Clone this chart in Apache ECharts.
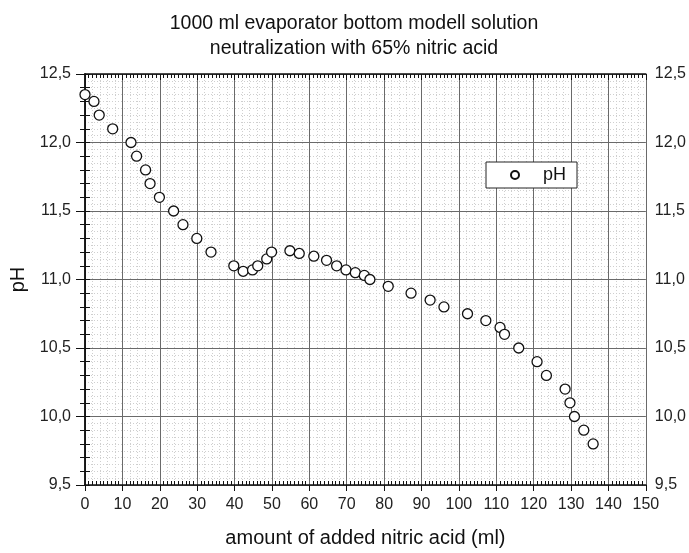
<!DOCTYPE html>
<html>
<head>
<meta charset="utf-8">
<script src="https://cdn.jsdelivr.net/npm/echarts@6/dist/echarts.min.js"></script>
<style>
  html, body { margin: 0; padding: 0; background: #fff; }
  #chart { width: 689px; height: 553px; }
</style>
</head>
<body>
<div id="chart"></div>
<script>
// amount of added nitric acid (ml)
const acidMl = [0, 2.4, 3.8, 7.4, 12.3, 13.8, 16.2, 17.4, 19.9, 23.7, 26.2, 29.9, 33.7,
  39.8, 42.3, 44.8, 46.2, 48.6, 49.9, 54.8, 57.3, 61.2, 64.6, 67.3, 69.8, 72.3, 74.7, 76.2,
  81.1, 87.2, 92.3, 96.0, 102.3, 107.2, 111.0, 112.2, 116.0, 120.9, 123.4, 128.4, 129.7,
  130.9, 133.4, 135.9];
// measured pH
const phValues = [12.35, 12.3, 12.2, 12.1, 12.0, 11.9, 11.8, 11.7, 11.6, 11.5, 11.4, 11.3, 11.2,
  11.1, 11.06, 11.07, 11.1, 11.15, 11.2, 11.21, 11.19, 11.17, 11.14, 11.1, 11.07, 11.05, 11.03, 11.0,
  10.95, 10.9, 10.85, 10.8, 10.75, 10.7, 10.65, 10.6, 10.5, 10.4, 10.3, 10.2, 10.1,
  10.0, 9.9, 9.8];

const titleLines = ['1000 ml evaporator bottom modell solution', 'neutralization with 65% nitric acid'];
const xName = 'amount of added nitric acid (ml)';
const yName = 'pH';

const points = acidMl.map((x, i) => [x, phValues[i]]);
const font = 'Liberation Sans, Arial, sans-serif';
const commaFmt = v => v.toFixed(1).replace('.', ',');

const chart = echarts.init(document.getElementById('chart'));

const xBase = { type: 'value', min: 0, max: 150, interval: 10 };
const yBase = { type: 'value', min: 9.5, max: 12.5, interval: 0.5 };
const blackLine = { show: true, lineStyle: { color: '#111', width: 1.5 } };
const tickStyle = { color: '#111', width: 1 };
const labelText = { fontFamily: font, fontSize: 16, color: '#222' };
// dotted fine grid lives on its own hidden axes, drawn beneath the major grid
const dotGrid = { show: true, lineStyle: { color: '#cfcfcf', width: 1, type: [1, 2] } };

chart.setOption({
  animation: false,
  title: {
    text: titleLines.join('\n'),
    left: 349,
    top: 6,
    textAlign: 'center',
    textStyle: { fontFamily: font, fontSize: 19.5, fontWeight: 'normal', color: '#111', lineHeight: 25 }
  },
  legend: {
    left: 486,
    top: 162,
    data: [yName],
    backgroundColor: '#fff',
    borderColor: '#222',
    borderWidth: 1,
    borderRadius: 0,
    padding: [4, 11, 4, 24],
    itemWidth: 46,
    itemHeight: 8,
    textStyle: { fontFamily: font, fontSize: 18, color: '#111' }
  },
  grid: { left: 85, right: 43, top: 74, bottom: 66, containLabel: false },
  xAxis: [
    Object.assign({}, xBase, {
      position: 'bottom',
      z: 1,
      name: xName,
      nameLocation: 'middle',
      nameGap: 43,
      nameTextStyle: { fontFamily: font, fontSize: 20, color: '#111' },
      axisLine: blackLine,
      axisTick: { show: true, length: 6, lineStyle: tickStyle },
      axisLabel: Object.assign({ margin: 12 }, labelText),
      splitLine: { show: true, lineStyle: { color: '#6a6a6a', width: 1 } }
    }),
    Object.assign({}, xBase, {
      position: 'bottom',
      z: 1,
      axisLine: { show: false },
      axisTick: { show: false, inside: true },
      minorTick: { show: true, splitNumber: 10, length: 4, lineStyle: tickStyle },
      axisLabel: { show: false },
      splitLine: { show: false }
    }),
    Object.assign({}, xBase, {
      position: 'top',
      z: 1,
      axisLine: blackLine,
      axisTick: { show: true, inside: true, length: 6, lineStyle: tickStyle },
      minorTick: { show: true, splitNumber: 10, length: 4, lineStyle: tickStyle },
      axisLabel: { show: false },
      splitLine: { show: false }
    }),
    Object.assign({}, xBase, {
      position: 'bottom',
      z: 0,
      axisLine: { show: false },
      axisTick: { show: false },
      axisLabel: { show: false },
      splitLine: { show: false },
      minorTick: { show: false, splitNumber: 5 },
      minorSplitLine: dotGrid
    })
  ],
  yAxis: [
    Object.assign({}, yBase, {
      position: 'left',
      z: 1,
      name: yName,
      nameLocation: 'middle',
      nameGap: 55,
      nameTextStyle: { fontFamily: font, fontSize: 20, color: '#111' },
      axisLine: blackLine,
      axisTick: { show: true, length: 9, lineStyle: tickStyle },
      minorTick: { show: true, splitNumber: 5, length: 5, lineStyle: tickStyle },
      axisLabel: Object.assign({ margin: 14, formatter: commaFmt }, labelText),
      splitLine: { show: true, lineStyle: { color: '#6a6a6a', width: 1 } }
    }),
    Object.assign({}, yBase, {
      position: 'right',
      z: 1,
      axisLine: blackLine,
      axisTick: { show: true, length: 5, lineStyle: tickStyle },
      minorTick: { show: true, splitNumber: 5, length: 5, lineStyle: tickStyle },
      axisLabel: Object.assign({ margin: 9, formatter: commaFmt }, labelText),
      splitLine: { show: false }
    }),
    Object.assign({}, yBase, {
      position: 'left',
      z: 0,
      axisLine: { show: false },
      axisTick: { show: false },
      axisLabel: { show: false },
      splitLine: { show: false },
      minorTick: { show: false, splitNumber: 10 },
      minorSplitLine: dotGrid
    })
  ],
  series: [
    {
      name: yName,
      type: 'scatter',
      z: 5,
      xAxisIndex: 0,
      yAxisIndex: 0,
      data: points,
      symbol: 'circle',
      symbolSize: 10,
      itemStyle: { color: '#fff', borderColor: '#111', borderWidth: 1.3, opacity: 1 }
    }
  ]
});
</script>
</body>
</html>
